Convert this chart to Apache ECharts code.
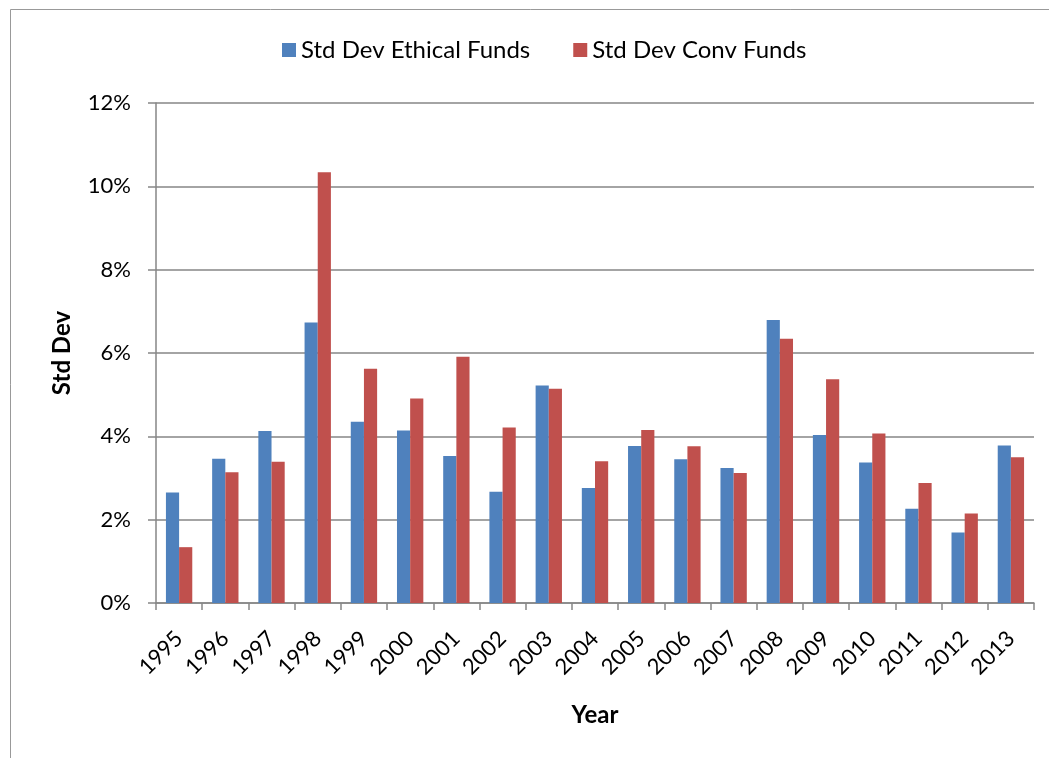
<!DOCTYPE html>
<html><head><meta charset="utf-8">
<script src="https://cdn.jsdelivr.net/npm/echarts@6/dist/echarts.min.js"></script>
<style>html,body{margin:0;padding:0;background:#fff}#c{width:1049px;height:758px}</style>
</head><body><div id="c"></div>
<script>
const years = ['1995','1996','1997','1998','1999','2000','2001','2002','2003','2004','2005','2006','2007','2008','2009','2010','2011','2012','2013'];
const ethical = [0.0265,0.0346,0.0413,0.0673,0.0435,0.0414,0.0353,0.0267,0.0522,0.0276,0.0377,0.0345,0.0324,0.0679,0.0403,0.0337,0.0226,0.0169,0.0378];
const conv = [0.0134,0.0314,0.0339,0.1034,0.0562,0.0491,0.0591,0.0421,0.0514,0.0340,0.0415,0.0376,0.0312,0.0634,0.0537,0.0407,0.0288,0.0215,0.0350];
const yTicks = [0,0.02,0.04,0.06,0.08,0.10,0.12];
const FONT = 'Lato';
const chart = echarts.init(document.getElementById('c'), null, {renderer:'canvas'});
chart.setOption({
  animation:false,
  textStyle:{fontFamily:FONT},
  graphic:[{type:'rect',shape:{x:10.5,y:9.5,width:1100,height:800},style:{fill:'none',stroke:'#999',lineWidth:1},silent:true}],
  legend:{
    left:277, top:33, itemWidth:14, itemHeight:14, itemGap:43,
    icon:'rect',
    textStyle:{fontFamily:FONT,fontSize:24,color:'#000'},
    data:['Std Dev Ethical Funds','Std Dev Conv Funds']
  },
  grid:{left:156,right:15,top:103,bottom:155,containLabel:false},
  xAxis:{
    type:'category', data:years,
    name:'Year', nameLocation:'middle', nameGap:100,
    nameTextStyle:{fontFamily:FONT,fontSize:24,fontWeight:'bold',color:'#000'},
    axisLine:{lineStyle:{color:'#868686',width:1.5}},
    axisTick:{show:true,length:7,alignWithLabel:false,lineStyle:{color:'#868686',width:1.5}},
    axisLabel:{rotate:45,fontFamily:FONT,fontSize:22,color:'#000',margin:32,interval:0}
  },
  yAxis:{
    type:'value', min:0, max:0.12, interval:0.02,
    name:'Std Dev', nameLocation:'middle', nameGap:82,
    nameTextStyle:{fontFamily:FONT,fontSize:24,fontWeight:'bold',color:'#000'},
    axisLine:{show:true,lineStyle:{color:'#868686',width:1.5}},
    axisTick:{show:true,length:8,lineStyle:{color:'#868686',width:1.5}},
    splitLine:{lineStyle:{color:'#868686',width:1.5}},
    axisLabel:{fontFamily:FONT,fontSize:22,color:'#000',margin:25,
      formatter:v=>Math.round(v*100)+'%'}
  },
  series:[
    {name:'Std Dev Ethical Funds',type:'bar',data:ethical,barGap:'0%',barCategoryGap:'43%',
     itemStyle:{color:'#4F81BD'}},
    {name:'Std Dev Conv Funds',type:'bar',data:conv,barGap:'0%',barCategoryGap:'43%',
     itemStyle:{color:'#C0504D'}}
  ]
});
</script></body></html>
